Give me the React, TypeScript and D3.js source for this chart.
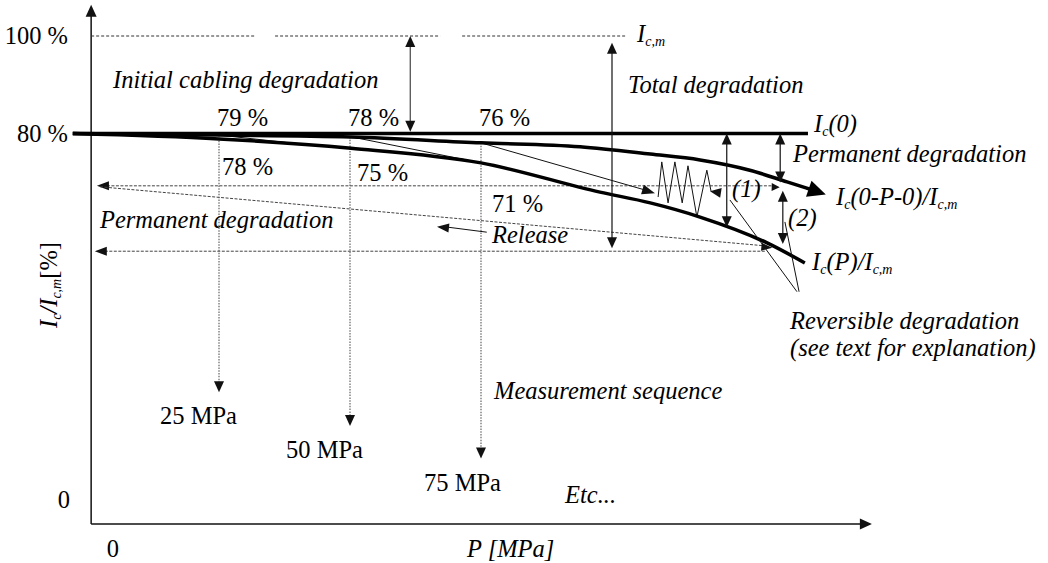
import React from "react";
import * as d3 from "d3";

const W = 1048;
const H = 563;

// ---------- data (P in MPa, values in % of Ic,m) ----------
const pressureSteps = [25, 50, 75];
const stepLabelsTop = ["79 %", "78 %", "76 %"];
const stepLabelsBottom = ["78 %", "75 %", "71 %"];
const stepMpaLabels = ["25 MPa", "50 MPa", "75 MPa"];
const stepArrowEnd = [27.0, 20.1, 13.4];
const stepTopStart = [79.7, 79.3, 78.1];

const yTickValues = [0, 80, 100];
const yTickLabels = ["0", "80 %", "100 %"];

const icmLevel = 100;
const ic0Level = 80;
const curveStartP = -2.9;
const ic0EndP = 137.4;

const upperCurveP = [-2.9, 25, 50.2, 75, 93.9, 107.3, 116.8, 126.3, 133.4, 137.8, 140.8];
const upperCurveV = [80, 79.7, 79.3, 78.1, 77.3, 75.8, 74.6, 72.5, 70.1, 68.6, 67.5];

const lowerCurveP = [-2.9, 25, 50.2, 75, 97.7, 107.3, 116.8, 129.6, 136.8];
const lowerCurveV = [80, 78.9, 77.0, 74.0, 68.0, 65.8, 62.9, 57.6, 53.5];

const zigzagP = [108.8, 109.5, 110.7, 112.0, 113.4, 114.5, 116.2, 118.1, 118.9];
const zigzagV = [67.0, 74.2, 65.8, 74.2, 65.8, 73.4, 62.9, 72.5, 68.2];

const permanentLevel = 69.3;
const releaseLevel = 55.9;

// icm dashed segments [fromP, toP]
const icmSegments: [number, number][] = [[0.6, 31.9], [35.7, 67.2], [71.4, 102.5]];

// thin load lines [P0, V0, P1, V1]
const loadLines: number[][] = [
  [25, 79.7, 38.5, 78.1],
  [50.4, 79.3, 75, 74.0],
];
const loadArrow = [75, 78.1, 108.2, 67.8];

// double arrows [P, Vtop, Vbottom]
const doubleArrows: number[][] = [
  [61.5, 100, 80.4],
  [100, 98.6, 56.5],
  [121.9, 80, 60.8],
  [132.1, 80, 70.0],
  [132.6, 68.3, 57.4],
];

const releaseDiagonal = [2.3, 69.1, 129.2, 57.0];
const releaseArrow = [76.1, 59.8, 66.6, 60.9];
const reversiblePointers: number[][] = [
  [122.5, 66.4, 135.3, 47.6],
  [133.0, 61.9, 135.7, 47.6],
];

// ---------- scales ----------
const xScale = d3.scaleLinear().domain([0, 150]).range([88, 874]);
const yScale = d3.scaleLinear().domain([0, 100]).range([524, 36]);
const axisP = 0.6;

const FONT = "Liberation Serif";
const FS = 24.5;
const SUB = 14;

type Pt = [number, number];

function head(tip: Pt, from: Pt, len: number, half: number) {
  const dx = tip[0] - from[0];
  const dy = tip[1] - from[1];
  const d = Math.hypot(dx, dy) || 1;
  const ux = dx / d, uy = dy / d;
  const bx = tip[0] - ux * len, by = tip[1] - uy * len;
  const px = -uy * half, py = ux * half;
  return `${tip[0]},${tip[1]} ${bx + px},${by + py} ${bx - px},${by - py}`;
}

const P = (p: number) => xScale(p);
const V = (v: number) => yScale(v);

function SubText({ x, y, parts }: { x: number; y: number; parts: [string, boolean][] }) {
  let prevSub = false;
  return (
    <text x={x} y={y} style={{ fontFamily: FONT, fontSize: FS, fontStyle: "italic" }}>
      {parts.map(([t, sub], i) => {
        const dy = sub && !prevSub ? 4 : !sub && prevSub ? -4 : 0;
        prevSub = sub;
        return (
          <tspan key={i} dy={dy} style={{ fontSize: sub ? SUB : FS }}>
            {t}
          </tspan>
        );
      })}
    </text>
  );
}

export default function App() {
  const line = d3
    .line<Pt>()
    .x((d) => P(d[0]))
    .y((d) => V(d[1]))
    .curve(d3.curveMonotoneX);

  const upper: Pt[] = upperCurveP.map((p, i) => [p, upperCurveV[i]]);
  const upperBody = upper.slice(0, upper.length - 1);
  const upperTip = upper[upper.length - 1];
  const upperPrev = upper[upper.length - 2];
  const lower: Pt[] = lowerCurveP.map((p, i) => [p, lowerCurveV[i]]);
  const zig: Pt[] = zigzagP.map((p, i) => [p, zigzagV[i]]);
  const zigPath = d3
    .line<Pt>()
    .x((d) => P(d[0]))
    .y((d) => V(d[1]))(zig.slice(0, zig.length - 1)) as string;

  const axX = P(axisP);
  const axY = V(0);
  const yTop = V(106.4);
  const xRight = P(149.6);

  const txt = (x: number, y: number, s: string, italic = false, anchor = "start") => (
    <text x={x} y={y} textAnchor={anchor} style={{ fontFamily: FONT, fontSize: FS, fontStyle: italic ? "italic" : "normal" }}>
      {s}
    </text>
  );

  const dash = { stroke: "#444", strokeWidth: 1, strokeDasharray: "3,1.5", fill: "none" } as const;
  const dots = { stroke: "#555", strokeWidth: 1.1, strokeDasharray: "1.5,1.3", fill: "none" } as const;

  return (
    <div style={{ position: "absolute", left: 0, top: 0 }}>
      <svg width={W} height={H} viewBox={`0 0 ${W} ${H}`} style={{ display: "block", background: "#fff" }}>
        {/* axes */}
        <line x1={axX} y1={axY} x2={axX} y2={yTop + 8} stroke="#111" strokeWidth={1.5} />
        <polygon points={head([axX, yTop], [axX, axY], 12, 5.5)} fill="#111" />
        <line x1={axX} y1={axY} x2={xRight - 8} y2={axY} stroke="#111" strokeWidth={1.5} />
        <polygon points={head([xRight, axY], [axX, axY], 12, 5.5)} fill="#111" />

        {/* y tick labels */}
        {yTickValues.map((v, i) =>
          v === 0
            ? <g key={i}>{txt(70, V(v) - 16, yTickLabels[i], false, "end")}</g>
            : <g key={i}>{txt(68, V(v) + 8, yTickLabels[i], false, "end")}</g>
        )}
        {txt(P(3.6), 557, "0")}
        {txt(467, 557, "P [MPa]", true)}

        {/* y axis title */}
        <g transform={`translate(57, 285) rotate(-90)`}>
          <text x={0} y={0} textAnchor="middle" style={{ fontFamily: FONT, fontSize: FS }}>
            <tspan style={{ fontStyle: "italic" }}>I</tspan>
            <tspan style={{ fontStyle: "italic", fontSize: SUB }} dy={4}>c</tspan>
            <tspan style={{ fontStyle: "italic" }} dy={-4}>/I</tspan>
            <tspan style={{ fontStyle: "italic", fontSize: SUB }} dy={4}>c,m</tspan>
            <tspan dy={-4}>[%]</tspan>
          </text>
        </g>

        {/* Ic,m dashed line */}
        {icmSegments.map(([a, b], i) => (
          <line key={i} x1={P(a)} x2={P(b)} y1={V(icmLevel)} y2={V(icmLevel)} stroke="#333" strokeWidth={1} strokeDasharray="3,2" />
        ))}

        {/* horizontal dashed levels */}
        <line x1={P(1.7) + 10} x2={P(131.1)} y1={V(permanentLevel)} y2={V(permanentLevel)} {...dash} />
        <polygon points={head([P(1.7), V(permanentLevel)], [P(20), V(permanentLevel)], 12, 4.5)} fill="#111" />
        <line x1={P(1.3) + 10} x2={P(129.2)} y1={V(releaseLevel)} y2={V(releaseLevel)} {...dash} />
        <polygon points={head([P(1.3), V(releaseLevel)], [P(20), V(releaseLevel)], 12, 4.5)} fill="#111" />
        <line x1={P(releaseDiagonal[0])} y1={V(releaseDiagonal[1])} x2={P(releaseDiagonal[2])} y2={V(releaseDiagonal[3])} {...dash} />
        <polygon points={head([P(130.6), V(56.6)], [P(releaseDiagonal[0]), V(releaseDiagonal[1])], 11, 4)} fill="#111" />
        <polygon points={head([P(132.0), V(69.0)], [P(120), V(69.3)], 8, 4)} fill="#111" />

        {/* vertical dotted measurement sequence */}
        {pressureSteps.map((p, i) => (
          <g key={i}>
            <line x1={P(p)} x2={P(p)} y1={V(stepTopStart[i])} y2={V(stepArrowEnd[i]) - 10} {...dots} />
            <polygon points={head([P(p), V(stepArrowEnd[i])], [P(p), V(stepTopStart[i])], 11, 5)} fill="#111" />
          </g>
        ))}

        {/* thin load lines */}
        {loadLines.map((l, i) => (
          <line key={i} x1={P(l[0])} y1={V(l[1])} x2={P(l[2])} y2={V(l[3])} stroke="#111" strokeWidth={1} />
        ))}
        <line x1={P(loadArrow[0])} y1={V(loadArrow[1])} x2={P(loadArrow[2]) - 6} y2={V(loadArrow[3]) - 2} stroke="#111" strokeWidth={1} />
        <polygon points={head([P(loadArrow[2]), V(loadArrow[3])], [P(loadArrow[0]), V(loadArrow[1])], 13, 5)} fill="#111" />

        {/* zigzag */}
        <path d={zigPath} fill="none" stroke="#111" strokeWidth={1} />
        <line x1={P(zig[zig.length - 2][0])} y1={V(zig[zig.length - 2][1])} x2={P(zig[zig.length - 1][0])} y2={V(zig[zig.length - 1][1])} stroke="#111" strokeWidth={1} />
        <polygon points={head([P(zig[zig.length - 1][0]) - 1, V(zig[zig.length - 1][1])], [P(zig[zig.length - 1][0]) + 12, V(zig[zig.length - 1][1]) + 2], 11, 5)} fill="#111" />

        {/* curves */}
        <line x1={P(curveStartP)} x2={P(ic0EndP)} y1={V(ic0Level)} y2={V(ic0Level)} stroke="#000" strokeWidth={3.5} />
        <path d={line(lower) as string} fill="none" stroke="#000" strokeWidth={3.5} />
        <path d={line(upperBody) as string} fill="none" stroke="#000" strokeWidth={3.5} />
        <polygon points={head([P(upperTip[0]), V(upperTip[1])], [P(upperPrev[0]), V(upperPrev[1])], 18, 8.5)} fill="#000" />

        {/* double arrows */}
        {doubleArrows.map(([p, a, b], i) => {
          const x = P(p);
          const y1 = V(a), y2 = V(b);
          return (
            <g key={i}>
              <line x1={x} x2={x} y1={y1 + 8} y2={y2 - 8} stroke={i === 0 ? "#444" : "#111"} strokeWidth={1.2} />
              <polygon points={head([x, y1], [x, y2], 11, 5)} fill="#111" />
              <polygon points={head([x, y2], [x, y1], 11, 5)} fill="#111" />
            </g>
          );
        })}

        {/* release arrow */}
        <line x1={P(releaseArrow[0])} y1={V(releaseArrow[1])} x2={P(releaseArrow[2]) + 8} y2={V(releaseArrow[3])} stroke="#111" strokeWidth={1} />
        <polygon points={head([P(releaseArrow[2]), V(releaseArrow[3])], [P(releaseArrow[0]), V(releaseArrow[1])], 12, 4.5)} fill="#111" />

        {/* reversible pointers */}
        {reversiblePointers.map((l, i) => (
          <line key={i} x1={P(l[0])} y1={V(l[1])} x2={P(l[2])} y2={V(l[3])} stroke="#111" strokeWidth={1} />
        ))}

        {/* step labels */}
        {pressureSteps.map((p, i) => (
          <g key={i}>
            {txt(P(p) - 2, 126, stepLabelsTop[i])}
            {txt(P(p) + 3 + i * 4, [175, 181, 212][i], stepLabelsBottom[i])}
            {txt(P(p) - [59, 64, 57][i], V(stepArrowEnd[i]) + 32, stepMpaLabels[i])}
          </g>
        ))}

        {/* annotations */}
        {txt(113, 88, "Initial cabling degradation", true)}
        {txt(628, 93, "Total degradation", true)}
        <SubText x={637} y={42} parts={[["I", false], ["c,m", true]]} />
        <SubText x={814} y={132} parts={[["I", false], ["c", true], ["(0)", false]]} />
        {txt(793, 162, "Permanent degradation", true)}
        {txt(732, 197, "(1)", true)}
        <SubText x={836} y={205} parts={[["I", false], ["c", true], ["(0-P-0)/I", false], ["c,m", true]]} />
        {txt(788, 226, "(2)", true)}
        <SubText x={812} y={270} parts={[["I", false], ["c", true], ["(P)/I", false], ["c,m", true]]} />
        {txt(790, 329, "Reversible degradation", true)}
        {txt(790, 356, "(see text for explanation)", true)}
        {txt(100, 228, "Permanent degradation", true)}
        {txt(492, 243, "Release", true)}
        {txt(494, 399, "Measurement sequence", true)}
        {txt(565, 503, "Etc...", true)}
      </svg>
    </div>
  );
}
